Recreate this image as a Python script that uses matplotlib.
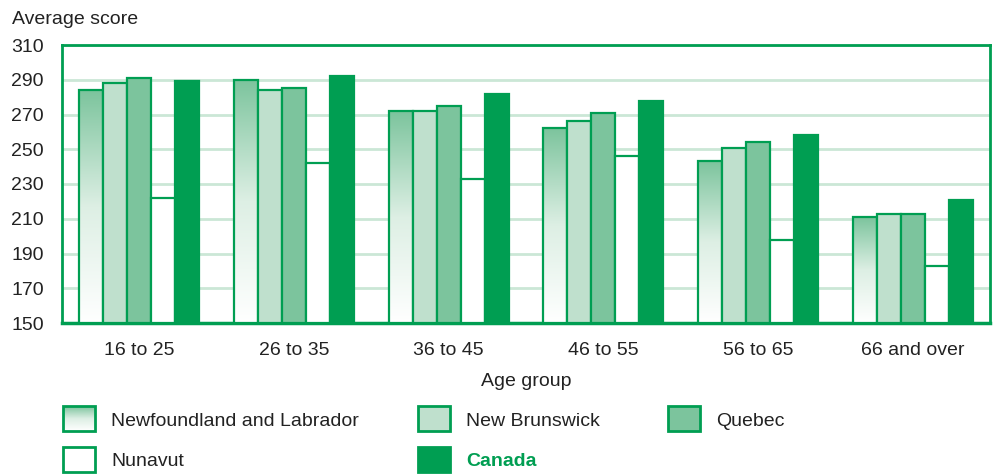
import numpy as np
import matplotlib
matplotlib.use("Agg")
import matplotlib.pyplot as plt
from matplotlib.colors import LinearSegmentedColormap
from matplotlib.patches import Rectangle

# Data
# _____

age_groups = ["16 to 25", "26 to 35", "36 to 45", "46 to 55", "56 to 65", "66 and over"]
newfoundland = [284, 290, 272, 262, 243, 211]
new_brunswick = [288, 284, 272, 266, 251, 213]
quebec = [291, 285, 275, 271, 254, 213]
nunavut = [222, 242, 233, 246, 198, 183]
canada = [289, 292, 282, 278, 258, 221]

series_names = ["Newfoundland and Labrador", "New Brunswick", "Quebec", "Nunavut", "Canada"]
series_values = [newfoundland, new_brunswick, quebec, nunavut, canada]

# Style
# ______

GREEN = "#009E52"
MID = "#7CC49D"
LIGHT = "#BFE0CD"
GRID = "#CBE7D6"
TEXT = "#222222"
FS = 14
fills = ["gradient", LIGHT, MID, "white", GREEN]

plt.rcParams['font.family'] = ['Liberation Sans', 'DejaVu Sans']
grad_cmap = LinearSegmentedColormap.from_list("nl", ["#FFFFFF", "#DDEFE4", MID])

fig = plt.figure(figsize=(9.94, 4.74), dpi=100)
ax = fig.add_axes([62/994, 1 - 323/474, 928/994, 278/474])

x = np.arange(len(age_groups))
width = 0.155

for i, (name, vals) in enumerate(zip(series_names, series_values)):
    pos = x + (i - 2) * width
    fc = "none" if fills[i] == "gradient" else fills[i]
    bars = ax.bar(pos, np.array(vals) - 150, width, bottom=150, facecolor=fc,
                  edgecolor=GREEN, linewidth=1.6, zorder=3)
    if fills[i] == "gradient":
        grad = np.linspace(0, 1, 256).reshape(-1, 1)
        for b in bars:
            x0, y0 = b.get_x(), b.get_y()
            im = ax.imshow(grad, cmap=grad_cmap, origin="lower", aspect="auto",
                           extent=[x0, x0 + b.get_width(), y0, y0 + b.get_height()],
                           zorder=2.9, interpolation="bilinear")
            im.set_clip_path(b)

ax.set_xlim(-0.5, len(age_groups) - 0.5)
ax.set_ylim(150, 310)
ax.set_yticks(range(150, 311, 20))
ax.set_xticks(x)
ax.set_xticklabels(age_groups)
ax.tick_params(length=0, labelsize=FS, colors=TEXT)
ax.tick_params(axis="y", pad=13)
ax.tick_params(axis="x", pad=13.5)
ax.yaxis.grid(True, color=GRID, linewidth=2, zorder=0)
ax.set_axisbelow(True)
for s in ax.spines.values():
    s.set_color(GREEN)
    s.set_linewidth(2)
ax.spines["bottom"].set_linewidth(2.5)

ax.set_xlabel("Age group", fontsize=FS, color=TEXT, labelpad=10)
fig.text(12/994, 1 - 19/474, "Average score", fontsize=FS, color=TEXT, va="center", ha="left")

# Legend
# _______

leg = fig.add_axes([0, 0, 1, 1], zorder=-1)
leg.axis("off")
leg_pos = [(63, 406), (418, 406), (668, 406), (63, 447), (418, 447)]
for i, name in enumerate(series_names):
    lx, ly = leg_pos[i]
    fc = "none" if fills[i] == "gradient" else fills[i]
    r = Rectangle((lx, ly), 32, 25, facecolor=fc, edgecolor=GREEN, linewidth=2, zorder=3)
    leg.add_patch(r)
    if fills[i] == "gradient":
        grad = np.linspace(0, 1, 64).reshape(-1, 1)
        im = leg.imshow(grad, cmap=grad_cmap, origin="lower", aspect="auto",
                        extent=[lx, lx + 32, ly + 25, ly], interpolation="bilinear", zorder=2)
        im.set_clip_path(r)
    bold = name == "Canada"
    leg.text(lx + 48, ly + 15, name, fontsize=FS, va="center", ha="left",
             color=GREEN if bold else TEXT, fontweight="bold" if bold else "normal")
leg.set_xlim(0, 994)
leg.set_ylim(474, 0)

fig.savefig("out.png", dpi=100)
